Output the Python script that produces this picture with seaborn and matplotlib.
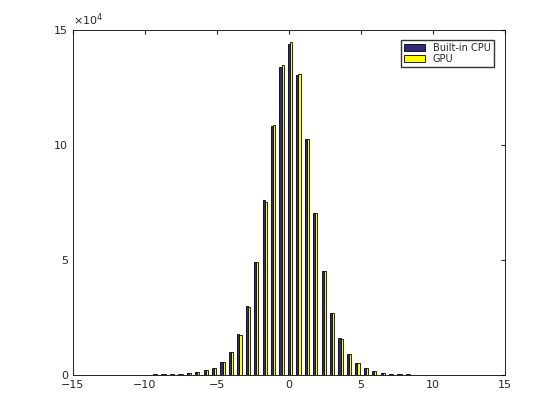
import matplotlib

matplotlib.use("Agg")
import matplotlib.pyplot as plt
import numpy as np
import seaborn as sns

# 50 histogram bins, step ~0.585
bin_centers = np.linspace(-14.55, 14.11, 50)
cpu_counts = [30, 30, 30, 40, 50, 60, 80, 100, 150,
              290, 290, 435, 580, 725, 1160, 2030, 3190, 5800, 10100, 17700,
              30000, 49300, 75900, 108000, 134000, 143800, 130300, 102500, 70400, 45200,
              26900, 15900, 9000, 5200, 2900, 1600, 870, 435, 290, 290,
              150, 100, 80, 60, 50, 40, 30, 30, 30, 30]
gpu_counts = [30, 30, 30, 40, 50, 60, 80, 100, 150,
              290, 290, 435, 580, 725, 1160, 2000, 3200, 5750, 10050, 17500,
              29700, 49000, 75400, 108500, 134600, 144600, 130800, 102700, 70500, 45300,
              26800, 15800, 9000, 5200, 2900, 1600, 870, 435, 290, 290,
              150, 100, 80, 60, 50, 40, 30, 30, 30, 30]
labels = ["Built-in CPU", "GPU"]


def main() -> None:
    sns.set_style("white")
    fig = plt.figure(figsize=(5.6, 4.2), dpi=100)
    ax = fig.add_axes([0.13, 0.107, 0.772, 0.822])

    w = 0.15
    ax.bar(bin_centers - w / 2, cpu_counts, width=w, color="#2f2a7c",
           edgecolor="black", linewidth=0.6, label=labels[0])
    ax.bar(bin_centers + w / 2, gpu_counts, width=w, color="#ffff00",
           edgecolor="black", linewidth=0.6, label=labels[1])

    ax.set_xlim(-15, 15)
    ax.set_ylim(0, 150000)
    ax.set_xticks(range(-15, 16, 5))
    ax.set_yticks([0, 50000, 100000, 150000])
    ax.set_yticklabels(["0", "5", "10", "15"])
    ax.text(0, 1.005, r"$\times10^4$", transform=ax.transAxes, fontsize=8,
            ha="left", va="bottom")
    ax.tick_params(direction="in", labelsize=8, length=3, top=True, right=True)
    for s in ax.spines.values():
        s.set_color("black")
        s.set_linewidth(0.6)

    ax.legend(loc="upper right", fontsize=7, frameon=True, fancybox=False,
              edgecolor="black", handlelength=2.2, borderpad=0.3,
              labelspacing=0.1, bbox_to_anchor=(0.985, 0.985))

    fig.savefig("out.png", dpi=100)
    plt.close(fig)


if __name__ == "__main__":
    main()
